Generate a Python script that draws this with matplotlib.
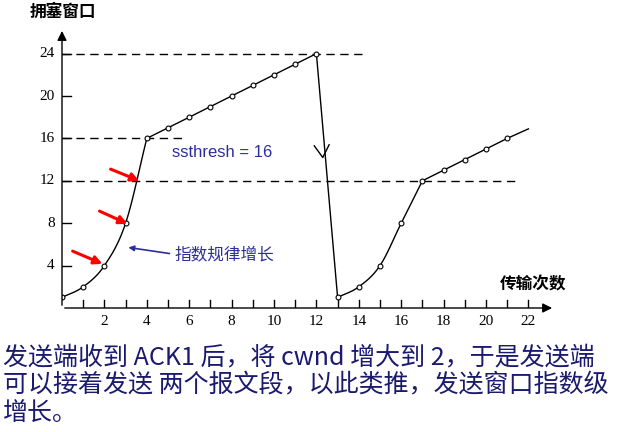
import matplotlib.pyplot as plt
import numpy as np

plt.rcParams['font.family'] = ['Liberation Serif', 'Noto Sans CJK SC']

# congestion window per transmission round
rounds = [0, 1, 2, 3, 4, 5, 6, 7, 8, 9, 10, 11, 12, 13, 14, 15, 16, 17, 18, 19, 20, 21]
cwnd = [1, 2, 4, 8, 16, 17, 18, 19, 20, 21, 22, 23, 24, 1, 2, 4, 8, 12, 13, 14, 15, 16]
x_ticks = [2, 4, 6, 8, 10, 12, 14, 16, 18, 20, 22]
y_ticks = [4, 8, 12, 16, 20, 24]
thresholds = [(24, 14.3), (16, 5.8), (12, 21.4)]  # (level, end x)


def smooth(xs, ys, n=20):
    # catmull-rom curve through the points, only for drawing the line
    p = np.column_stack([xs, ys]).astype(float)
    p = np.vstack([2*p[0] - p[1], p, 2*p[-1] - p[-2]])
    out = []
    for i in range(1, len(p) - 2):
        t = np.linspace(0, 1, n)[:, None]
        p0, p1, p2, p3 = p[i-1], p[i], p[i+1], p[i+2]
        out.append(0.5*((2*p1) + (-p0 + p2)*t + (2*p0 - 5*p1 + 4*p2 - p3)*t**2
                        + (-p0 + 3*p1 - 3*p2 + p3)*t**3))
    out = np.vstack(out)
    return out[:, 0], out[:, 1]


fig = plt.figure(figsize=(6.24, 4.32), dpi=100)
ax = fig.add_axes([62/624, 124/432, 493/624, 280/432])
ax.set_xlim(0, 493/21.2)
ax.set_ylim(0, 280/10.6)
ax.axis('off')

# axes with arrows
ax.annotate('', xy=(23.25, 0), xytext=(0, 0),
            arrowprops=dict(arrowstyle='-|>', color='black', lw=1, mutation_scale=14))
ax.annotate('', xy=(0, 26.4), xytext=(0, 0),
            arrowprops=dict(arrowstyle='-|>', color='black', lw=1, mutation_scale=14))
for t in range(1, 23):
    ax.plot([t, t], [0, 0.75], color='black', lw=1)
for t in x_ticks:
    ax.text(t, -0.7, str(t), ha='center', va='top', fontsize=11)
for t in y_ticks:
    ax.plot([0, 0.42], [t, t], color='black', lw=1)
    ax.text(-0.35, t, str(t), ha='right', va='center', fontsize=11)

for lvl, xe in thresholds:
    ax.plot([0, xe], [lvl, lvl], color='black', lw=1, ls=(0, (6, 4)))

# curve segments
for a, b in [(0, 5), (13, 18)]:
    sx, sy = smooth(rounds[a:b], cwnd[a:b])
    ax.plot(sx, sy, color='black', lw=1)
for a, b in [(4, 13), (12, 14), (17, 22)]:
    ax.plot(rounds[a:b], cwnd[a:b], color='black', lw=1)
ax.plot([21, 22], [16, 16.9], color='black', lw=1)
ax.plot(rounds, cwnd, 'o', mfc='white', mec='black', ms=3.5, mew=0.8)

# arrowhead on drop line
ax.plot([11.9, 12.3, 12.6], [15.3, 14.2, 15.4], color='black', lw=1)

ax.text(5.2, 14.7, 'ssthresh = 16', color='#2e2e9a', fontsize=12,
        family=['Liberation Sans'], va='center')
ax.text(5.3, 5.0, '指数规律增长', color='#2e2e9a', fontsize=12,
        family=['Noto Sans CJK SC'], va='center')
ax.annotate('', xy=(3.0, 5.75), xytext=(5.2, 5.1),
            arrowprops=dict(arrowstyle='-|>', color='#2e2e9a', lw=1.2, mutation_scale=8))
for (x0, y0), (x1, y1) in [((0.38, 5.47), (2.03, 4.06)),
                           ((1.65, 9.25), (3.21, 7.83)),
                           ((2.17, 13.2), (3.77, 11.9))]:
    ax.annotate('', xy=(x1, y1), xytext=(x0, y0),
                arrowprops=dict(arrowstyle='-|>', color='red', lw=2.2, mutation_scale=12))

fig.text(63/624, 1 - 12/432, '拥塞窗口', fontsize=12, fontweight='bold',
         family=['Noto Sans CJK SC'], va='center', ha='center')
ax.text(22.2, 2.2, '传输次数', fontsize=12, fontweight='bold',
        family=['Noto Sans CJK SC'], va='center', ha='center')

lines = ['发送端收到 ACK1 后，将 cwnd 增大到 2，于是发送端',
         '可以接着发送 两个报文段，以此类推，发送窗口指数级',
         '增长。']
for i, s in enumerate(lines):
    fig.text(3/624, 1 - (357 + 28*i)/432, s, fontsize=18, color='#1a1a6e',
             family=['Noto Sans CJK SC', 'DejaVu Sans'], va='center')

fig.savefig('out.png', dpi=100)
